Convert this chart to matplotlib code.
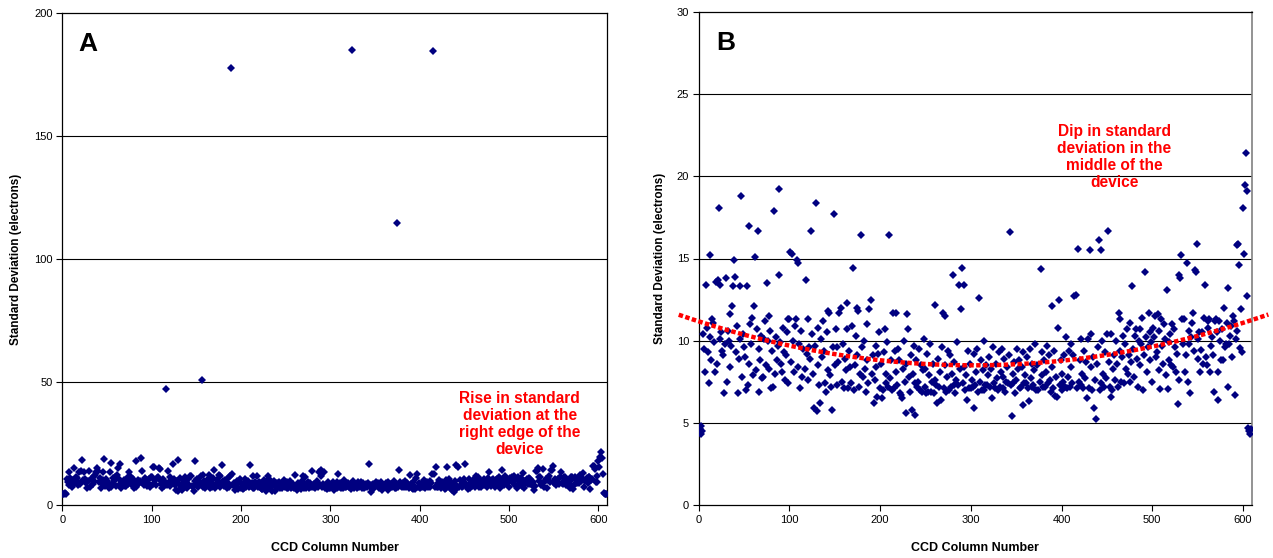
import numpy as np
import matplotlib
matplotlib.use("Agg")
import matplotlib.pyplot as plt

plt.rcParams['font.family'] = ['Liberation Sans', 'DejaVu Sans']

# Standard deviation (electrons) for each CCD column, starting at column 0
std_dev = [
    4.4, 4.6, 4.3, 4.8, 4.5, 10.4, 9.5, 8.1, 13.4, 10.8,
    9.3, 7.4, 10.2, 15.2, 8.8, 11.3, 11.1, 9.9, 8.1, 13.6,
    8.6, 13.7, 18.1, 10.1, 13.4, 10.5, 9.4, 9.1, 6.8, 9.8,
    13.8, 7.5, 10.6, 10.0, 8.4, 11.6, 9.7, 12.1, 13.3, 14.9,
    13.9, 9.3, 10.9, 6.8, 8.9, 10.1, 13.3, 18.8, 7.8, 10.4,
    9.6, 9.0, 7.0, 13.3, 7.3, 17.0, 8.6, 11.0, 9.8, 11.4,
    7.9, 12.1, 15.1, 8.2, 10.7, 16.7, 6.9, 9.5, 8.8, 10.3,
    7.7, 7.8, 10.1, 11.2, 8.5, 13.5, 10.0, 11.5, 8.3, 10.6,
    7.1, 9.4, 7.2, 17.9, 8.0, 10.2, 8.8, 9.7, 19.2, 14.0,
    9.9, 8.6, 8.1, 10.8, 9.3, 7.6, 9.1, 10.5, 7.4, 11.3,
    11.3, 15.4, 8.7, 15.3, 10.0, 8.1, 10.9, 11.3, 14.9, 14.7,
    8.4, 9.8, 7.1, 10.6, 7.8, 9.5, 47.0, 8.3, 13.7, 9.2,
    7.6, 11.3, 9.6, 8.9, 16.7, 10.4, 8.0, 5.9, 9.7, 18.4,
    5.7, 8.5, 10.8, 7.3, 6.2, 10.1, 9.0, 11.2, 9.4, 7.4,
    6.9, 10.5, 8.2, 11.8, 11.7, 7.9, 7.2, 5.8, 9.6, 17.7,
    8.5, 10.7, 7.3, 9.6, 8.7, 11.7, 51.0, 12.0, 7.5, 9.8,
    7.1, 8.9, 8.2, 10.7, 12.3, 7.1, 9.4, 8.4, 7.4, 10.9,
    14.4, 7.0, 8.5, 10.3, 9.1, 12.0, 11.8, 7.2, 8.0, 16.4,
    9.6, 7.8, 10.0, 8.3, 6.9, 8.8, 11.0, 7.4, 11.9, 177.5,
    12.5, 8.0, 9.1, 6.2, 7.6, 9.7, 8.4, 6.6, 9.2, 10.5,
    7.1, 8.6, 6.5, 7.0, 9.3, 10.7, 7.4, 8.0, 9.9, 7.2,
    16.4, 7.7, 8.8, 7.0, 11.7, 7.1, 9.4, 8.1, 11.7, 7.3,
    9.5, 8.8, 6.8, 6.7, 6.5, 8.3, 10.0, 7.5, 5.6, 8.6,
    11.6, 10.7, 7.8, 6.9, 9.1, 5.8, 8.0, 9.7, 5.5, 7.4,
    8.8, 7.2, 7.5, 9.5, 7.0, 8.5, 6.9, 8.2, 10.1, 7.2,
    8.3, 6.8, 9.2, 6.9, 7.9, 9.8, 6.9, 7.5, 8.6, 6.8,
    12.2, 7.6, 7.3, 6.2, 8.9, 7.2, 8.1, 6.4, 9.6, 11.7,
    7.1, 8.5, 11.5, 6.9, 7.8, 9.4, 7.0, 9.1, 7.2, 8.0,
    14.0, 7.3, 8.7, 6.8, 7.6, 9.9, 7.3, 13.4, 8.3, 11.9,
    14.4, 7.4, 8.4, 13.4, 7.0, 7.9, 6.4, 9.4, 7.1, 8.6,
    7.1, 7.6, 7.2, 9.2, 5.9, 7.3, 8.1, 9.5, 6.9, 12.6,
    7.5, 8.8, 7.0, 8.2, 7.0, 10.0, 7.3, 8.5, 7.3, 7.9,
    9.0, 7.2, 8.3, 6.5, 185.0, 9.6, 7.4, 7.1, 8.6, 7.7,
    7.0, 9.3, 7.2, 8.1, 9.5, 7.1, 7.8, 8.9, 6.9, 7.5,
    8.4, 7.4, 9.1, 16.6, 7.3, 5.4, 8.0, 7.4, 8.7, 6.8,
    7.6, 9.5, 8.3, 8.8, 7.1, 7.2, 8.4, 9.3, 6.1, 7.4,
    7.9, 7.4, 9.0, 7.1, 6.3, 9.5, 7.7, 7.2, 8.6, 7.3,
    8.2, 9.8, 7.0, 8.5, 7.0, 114.6, 7.5, 14.35, 9.3, 7.9,
    7.2, 8.8, 7.2, 8.1, 9.7, 7.4, 9.1, 7.6, 6.9, 12.1,
    8.4, 7.1, 9.4, 6.65, 7.8, 6.6, 10.8, 12.5, 7.3, 8.8,
    7.0, 8.0, 7.5, 9.1, 7.2, 10.2, 7.1, 7.8, 9.4, 7.2,
    8.4, 9.8, 7.4, 9.1, 12.7, 184.5, 12.75, 7.15, 15.6, 7.5,
    8.8, 7.3, 10.1, 8.0, 7.1, 9.4, 7.7, 8.7, 6.5, 10.1,
    7.1, 15.5, 8.4, 10.4, 7.0, 9.0, 5.9, 7.6, 5.25, 8.6,
    9.6, 16.1, 7.0, 15.5, 7.4, 10.0, 8.0, 7.2, 9.3, 7.7,
    10.4, 16.7, 8.7, 7.2, 6.6, 10.4, 7.0, 8.3, 9.1, 7.6,
    10.0, 8.6, 7.2, 11.7, 9.4, 11.3, 7.5, 9.0, 10.3, 7.4,
    9.8, 8.3, 10.7, 8.0, 9.1, 7.5, 11.1, 8.7, 13.3, 9.5,
    7.8, 10.3, 10.7, 8.9, 7.2, 10.0, 10.7, 8.5, 9.8, 11.4,
    7.0, 9.1, 14.15, 10.2, 8.1, 9.6, 11.7, 10.5, 8.8, 9.9,
    7.5, 10.8, 10.2, 11.5, 9.0, 9.3, 11.65, 8.2, 10.6, 7.05,
    11.3, 9.7, 8.6, 11.0, 10.1, 7.9, 13.1, 7.05, 9.9, 8.8,
    10.4, 8.5, 11.0, 8.4, 10.7, 9.6, 8.1, 9.2, 6.15, 7.6,
    14.0, 13.8, 15.2, 11.3, 9.8, 11.3, 8.1, 9.1, 14.7, 7.5,
    9.8, 10.6, 6.8, 10.2, 11.1, 11.7, 9.4, 14.3, 14.2, 15.9,
    8.9, 10.1, 10.5, 8.1, 9.45, 10.5, 8.6, 11.4, 13.4, 9.0,
    8.5, 11.2, 10.8, 11.3, 8.1, 9.7, 10.2, 9.1, 6.9, 11.2,
    11.3, 10.5, 6.4, 8.1, 11.2, 10.0, 8.8, 10.7, 8.8, 12.0,
    9.6, 9.8, 11.1, 13.2, 7.2, 9.8, 10.3, 10.9, 9.0, 11.5,
    11.2, 6.7, 10.1, 10.6, 15.8, 15.9, 14.6, 9.55, 11.95, 9.3,
    18.05, 15.3, 19.45, 21.4, 19.1, 12.7, 4.7, 4.5, 4.3, 4.6,
]
columns = list(range(len(std_dev)))

x_ticks = [0, 100, 200, 300, 400, 500, 600]
y_ticks_a = [0, 50, 100, 150, 200]
y_ticks_b = [0, 5, 10, 15, 20, 25, 30]

label_a = "A"
label_b = "B"
note_a = "Rise in standard\ndeviation at the\nright edge of the\ndevice"
note_b = "Dip in standard\ndeviation in the\nmiddle of the\ndevice"
x_label = "CCD Column Number"
y_label = "Standard Deviation (electrons)"

x = np.array(columns, dtype=float)
y = np.array(std_dev, dtype=float)

W, H = 1273, 558
fig = plt.figure(figsize=(W / 100, H / 100), dpi=100)

ax_a = fig.add_axes([62.3 / W, (H - 505) / H, 545 / W, 492 / H])
ax_b = fig.add_axes([698.7 / W, (H - 505) / H, 553.3 / W, 493 / H])

navy = "#000080"

for ax, yt, ymax in [(ax_a, y_ticks_a, 200), (ax_b, y_ticks_b, 30)]:
    ax.set_xlim(0, 610)
    ax.set_ylim(0, ymax)
    ax.set_xticks(x_ticks)
    ax.set_yticks(yt)
    ax.tick_params(direction='out', length=4, width=0.8, labelsize=8, pad=3, colors='black')
    for yy in yt[1:-1]:
        ax.axhline(yy, color='black', lw=0.8, zorder=1)
    ax.plot(x, y, linestyle='none', marker='D', ms=3.6, color=navy,
            markeredgewidth=0, zorder=3)
    ax.set_xlabel(x_label, fontsize=9, fontweight='bold')
    ax.set_ylabel(y_label, fontsize=8.5, fontweight='bold')
    ax.xaxis.set_label_coords(0.5, -0.075)
    for s in ax.spines.values():
        s.set_linewidth(0.9)
        s.set_color('black')

ax_a.yaxis.set_label_coords(-0.074, 0.5)
ax_b.yaxis.set_label_coords(-0.059, 0.5)
ax_b.spines['right'].set_color('#808080')
ax_b.spines['right'].set_linewidth(1.2)

ax_a.text(0.029, 0.962, label_a, transform=ax_a.transAxes, fontsize=19,
          fontweight='bold', va='top', ha='left')
ax_b.text(0.031, 0.962, label_b, transform=ax_b.transAxes, fontsize=19,
          fontweight='bold', va='top', ha='left')

ax_a.text(512, 33, note_a, color='red', fontsize=11.2, fontweight='bold',
          ha='center', va='center', linespacing=1.17)
ax_b.text(458, 21.2, note_b, color='red', fontsize=11.2, fontweight='bold',
          ha='center', va='center', linespacing=1.17)

# second-order polynomial trendline (fit to the data in range of panel B)
mask = y < 30
coef = np.polyfit(x[mask], y[mask], 2)
xt = np.linspace(-22, 628, 300)
ax_b.plot(xt, np.polyval(coef, xt), color='red', lw=3.2,
          linestyle=(0, (1, 0.55)), dash_capstyle='butt', clip_on=False, zorder=4)

fig.savefig("out.png", dpi=100)
